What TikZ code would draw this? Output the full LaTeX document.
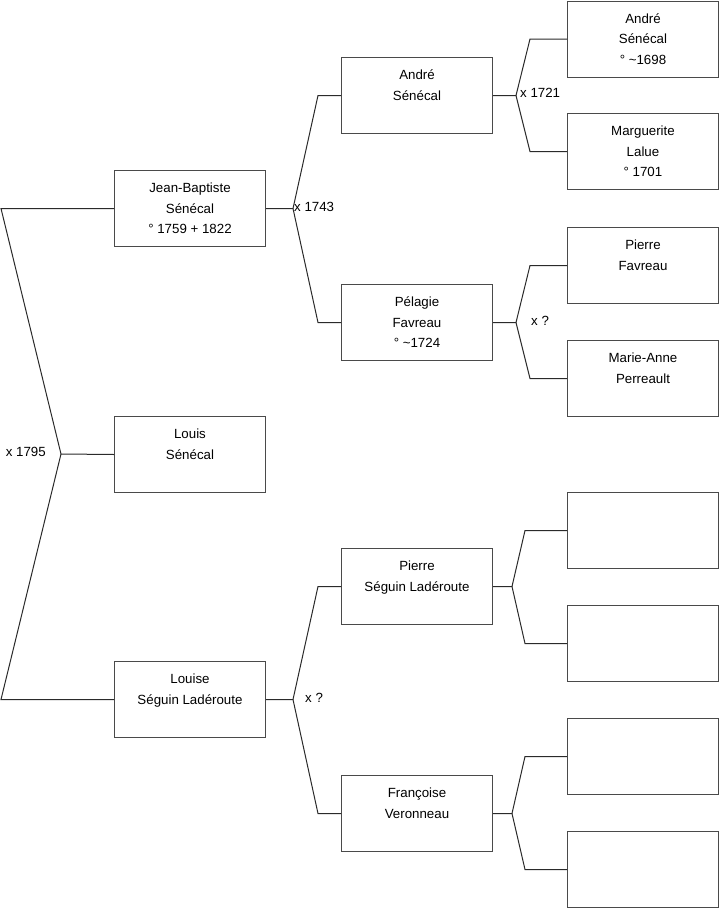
\documentclass[tikz,border=0pt]{standalone}
\usepackage{fontspec}
\setmainfont{Liberation Sans}
\usetikzlibrary{calc}
\definecolor{frame}{HTML}{4A4A4A}
\definecolor{wire}{HTML}{2A2A2A}
\tikzset{
  box/.style={draw=frame,line width=1pt,minimum width=151pt,minimum height=76pt,anchor=north west,inner sep=0pt},
  who/.style={anchor=north,inner sep=0pt,yshift=-13pt,align=center,font=\fontsize{13.3}{20.5}\selectfont},
  link/.style={draw=wire,line width=1pt},
  mar/.style={inner sep=0pt,font=\fontsize{13.3}{15}\selectfont}
}
\begin{document}
\begin{tikzpicture}[x=1pt,y=-1pt]
\useasboundingbox (0,0) rectangle (719,908);
% children
\node[box] (jb) at (114,170) {};
\node[box] (louis) at (114,416) {};
\node[box] (louise) at (114,661) {};
% parents
\node[box] (andre) at (341,57) {};
\node[box] (pelagie) at (341,284) {};
\node[box] (pierre) at (341,548) {};
\node[box] (francoise) at (341,775) {};
% grandparents
\node[box] (andreP) at (567,0.5) {};
\node[box] (marguerite) at (567,113) {};
\node[box] (pierreF) at (567,227) {};
\node[box] (marieA) at (567,340) {};
\foreach \y/\n in {492/e1,605/e2,718/e3,831/e4}{\node[box] (\n) at (567,\y) {};}
% names
\node[who] (jb-t) at (jb.north) {Jean-Baptiste\\Sénécal\\° 1759 + 1822};
\node[who] (louis-t) at (louis.north) {Louis\\Sénécal};
\node[who] (louise-t) at (louise.north) {Louise\\Séguin Ladéroute};
\node[who] (andre-t) at (andre.north) {André\\Sénécal};
\node[who] (pelagie-t) at (pelagie.north) {Pélagie\\Favreau\\° \textasciitilde1724};
\node[who] (pierre-t) at (pierre.north) {Pierre\\Séguin Ladéroute};
\node[who] (francoise-t) at (francoise.north) {Françoise\\Veronneau};
\node[who] (andreP-t) at (andreP.north) {André\\Sénécal\\° \textasciitilde1698};
\node[who] (marguerite-t) at (marguerite.north) {Marguerite\\Lalue\\° 1701};
\node[who] (pierreF-t) at (pierreF.north) {Pierre\\Favreau};
\node[who] (marieA-t) at (marieA.north) {Marie-Anne\\Perreault};
% siblings
\coordinate (f-root) at (61,454);
\draw[link] (jb.west) -- ++(-113,0) -- (f-root) -- ($(louise.west)+(-113,0)$) -- (louise.west);
\draw[link] (f-root) -- (louis.west);
% couples
\foreach \p/\a/\b/\d/\k in {jb/andre/pelagie/27/23,andre/andreP/marguerite/23/37,pelagie/pierreF/marieA/23/37,louise/pierre/francoise/27/23,pierre/e1/e2/19/42,francoise/e3/e4/19/42}{
  \draw[link] (\p.east) -- ++(\d,0) coordinate (f-\p) -- ($(\a.west)+(-\k,0)$) -- (\a.west);
  \draw[link] (f-\p) -- ($(\b.west)+(-\k,0)$) -- (\b.west);
}
% marriages
\node[mar,anchor=east,xshift=-15pt,yshift=2pt] (m-root) at (f-root) {x 1795};
\node[mar,anchor=west,xshift=1pt,yshift=2pt] (m-jb) at (f-jb) {x 1743};
\node[mar,anchor=west,xshift=4pt,yshift=3pt] (m-andre) at (f-andre) {x 1721};
\node[mar,anchor=west,xshift=15pt,yshift=2pt] (m-pelagie) at (f-pelagie) {x ?};
\node[mar,anchor=west,xshift=12pt,yshift=2pt] (m-louise) at (f-louise) {x ?};
\end{tikzpicture}
\end{document}
